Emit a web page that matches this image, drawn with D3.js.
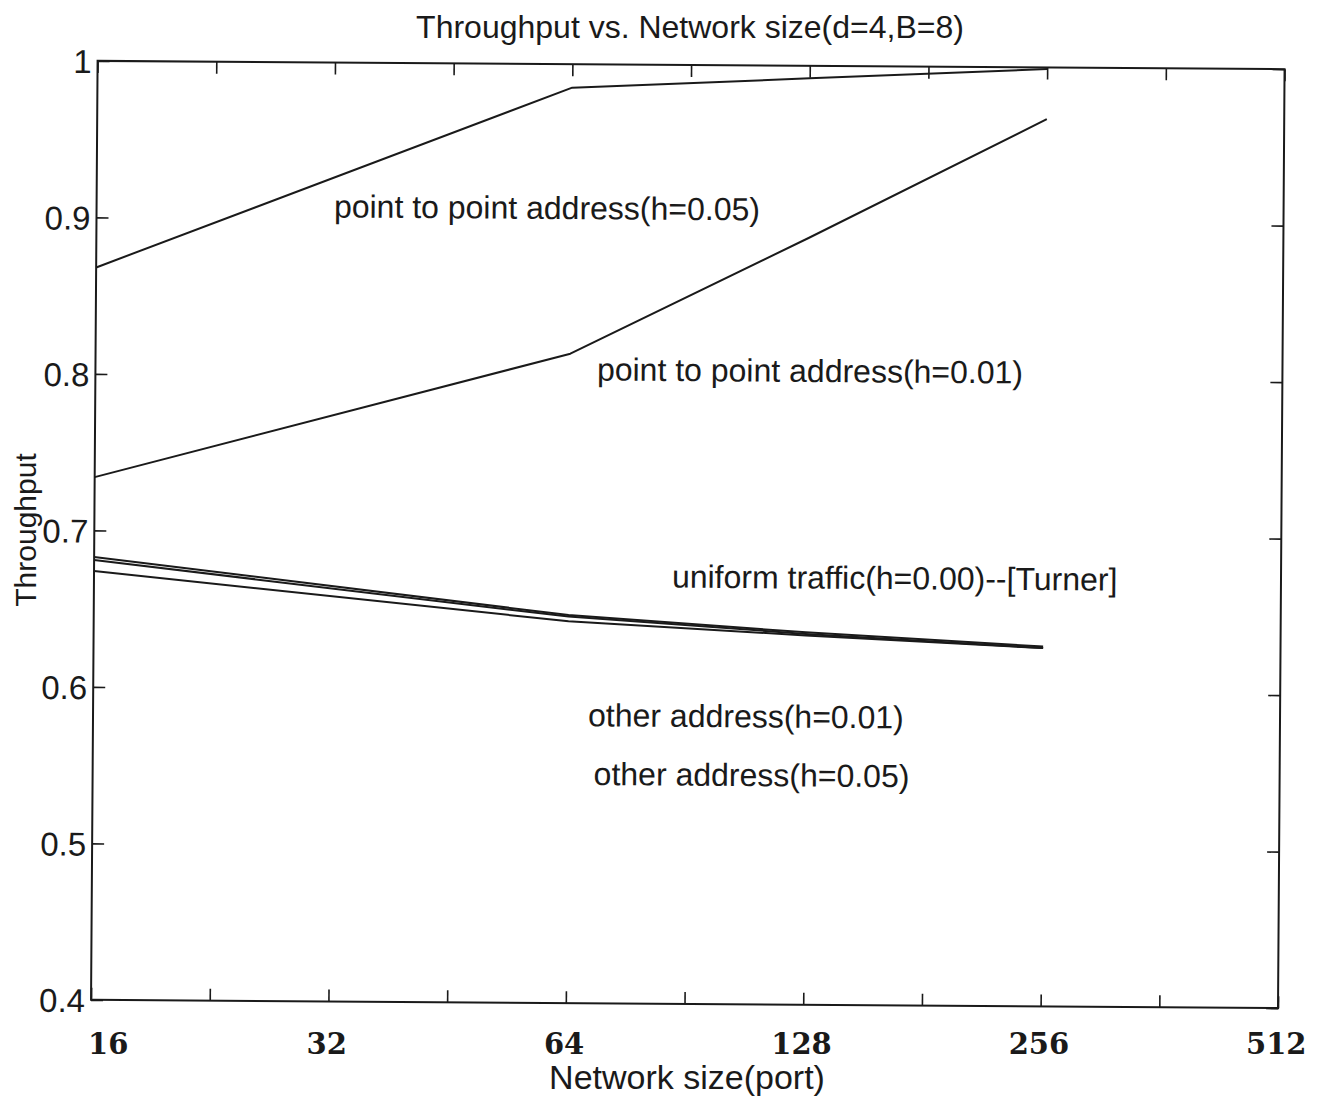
<!DOCTYPE html>
<html>
<head>
<meta charset="utf-8">
<script src="https://cdn.jsdelivr.net/npm/d3@7"></script>
<style>
  html, body { margin: 0; padding: 0; background: #ffffff; }
  svg { display: block; }
</style>
</head>
<body>
<svg id="chart" width="1320" height="1098"></svg>
<script>
// Network sizes (ports) at which each curve is sampled
const sizes = [16, 64, 128, 256];

// Throughput of each traffic pattern, one value per size
const p2p005 = [0.868, 0.985, 0.992, 0.999];
const p2p001 = [0.734, 0.815, 0.890, 0.967];
const uniformTurner = [0.683, 0.648, 0.638, 0.630];
const other001 = [0.681, 0.647, 0.637, 0.629];
const other005 = [0.674, 0.644, 0.636, 0.629];

// Axis labels
const xTickLabels = [16, 32, 64, 128, 256, 512];
const yTickLabels = [0.4, 0.5, 0.6, 0.7, 0.8, 0.9, 1];

const titleText = "Throughput vs. Network size(d=4,B=8)";
const xAxisTitle = "Network size(port)";
const yAxisTitle = "Throughput";

const seriesList = [p2p005, p2p001, uniformTurner, other001, other005];

// Curve captions, anchored in data space (left end of the text at [size, throughput])
const captions = [
  { text: "point to point address(h=0.05)", at: [32, 0.901] },
  { text: "point to point address(h=0.01)", at: [69.2, 0.798] },
  { text: "uniform traffic(h=0.00)--[Turner]", at: [86.5, 0.666] },
  { text: "other address(h=0.01)", at: [67.9, 0.577] },
  { text: "other address(h=0.05)", at: [69.1, 0.5395] }
];

// ---- layout ----
const plot = { left: 94.3, right: 1281.3, top: 65, bottom: 1004 };
const cx = (plot.left + plot.right) / 2, cy = (plot.top + plot.bottom) / 2;
const ink = "#1a1a1a";
const sans = "'Liberation Sans', Arial, sans-serif";

const svg = d3.select("#chart");
svg.append("rect").attr("width", 1320).attr("height", 1098).attr("fill", "#ffffff");

// the plot frame sits very slightly turned on the page
const g = svg.append("g").attr("transform", `rotate(0.4, ${cx}, ${cy})`);

const x = d3.scaleLog().base(2).domain([16, 512]).range([plot.left, plot.right]);
const y = d3.scaleLinear().domain([0.4, 1]).range([plot.bottom, plot.top]);

// x ticks every half octave: the labelled powers of two and the midpoints between them
const xTickValues = xTickLabels.concat(d3.pairs(xTickLabels).map(([a, b]) => Math.sqrt(a * b)))
  .sort((a, b) => a - b);
const tickLen = 12;

const xBottom = g.append("g").attr("transform", `translate(0,${plot.bottom})`)
  .call(d3.axisBottom(x).tickValues(xTickValues).tickSizeInner(-tickLen).tickSizeOuter(0).tickFormat(""));
const xTop = g.append("g").attr("transform", `translate(0,${plot.top})`)
  .call(d3.axisTop(x).tickValues(xTickValues).tickSizeInner(-tickLen).tickSizeOuter(0).tickFormat(""));
const yLeft = g.append("g").attr("transform", `translate(${plot.left},0)`)
  .call(d3.axisLeft(y).tickValues(yTickLabels).tickSizeInner(-tickLen).tickSizeOuter(0).tickPadding(6)
    .tickFormat(d3.format("~g")));
const yRight = g.append("g").attr("transform", `translate(${plot.right},0)`)
  .call(d3.axisRight(y).tickValues(yTickLabels).tickSizeInner(-tickLen).tickSizeOuter(0).tickFormat(""));

[xBottom, xTop, yLeft, yRight].forEach(ax => {
  ax.select(".domain").remove();
  ax.selectAll(".tick line").attr("stroke", ink).attr("stroke-width", 1.6);
});
yLeft.selectAll(".tick text")
  .attr("font-family", sans).attr("font-size", 33).attr("fill", ink)
  .attr("dy", "0.36em");

// frame
g.append("rect")
  .attr("x", plot.left).attr("y", plot.top)
  .attr("width", plot.right - plot.left).attr("height", plot.bottom - plot.top)
  .attr("fill", "none").attr("stroke", ink).attr("stroke-width", 2);

// curves
const line = d3.line().x((d, i) => x(sizes[i])).y(d => y(d));
g.append("g").selectAll("path").data(seriesList).join("path")
  .attr("d", line)
  .attr("fill", "none").attr("stroke", ink).attr("stroke-width", 2)
  .attr("stroke-linejoin", "round");

// captions
g.append("g").selectAll("text").data(captions).join("text")
  .attr("x", d => x(d.at[0])).attr("y", d => y(d.at[1]))
  .attr("font-family", sans).attr("font-size", 32).attr("fill", ink)
  .text(d => d.text);

// x tick labels in bold serif, set level on the page below the axis
svg.append("g").selectAll("text").data(xTickLabels).join("text")
  .attr("x", d => x(d) + (d === xTickLabels[0] ? 14 : -5))
  .attr("y", 1054)
  .attr("text-anchor", "middle")
  .attr("font-family", "'DejaVu Serif', serif").attr("font-weight", "bold")
  .attr("font-size", 29).attr("fill", ink)
  .text(d => d);

// titles
svg.append("text").attr("x", 690).attr("y", 38).attr("text-anchor", "middle")
  .attr("font-family", sans).attr("font-size", 32).attr("fill", ink).text(titleText);
svg.append("text").attr("x", 687).attr("y", 1089).attr("text-anchor", "middle")
  .attr("font-family", sans).attr("font-size", 34).attr("fill", ink).text(xAxisTitle);
svg.append("text").attr("transform", "translate(36,530) rotate(-90)").attr("text-anchor", "middle")
  .attr("font-family", sans).attr("font-size", 30).attr("fill", ink).text(yAxisTitle);
</script>
</body>
</html>
